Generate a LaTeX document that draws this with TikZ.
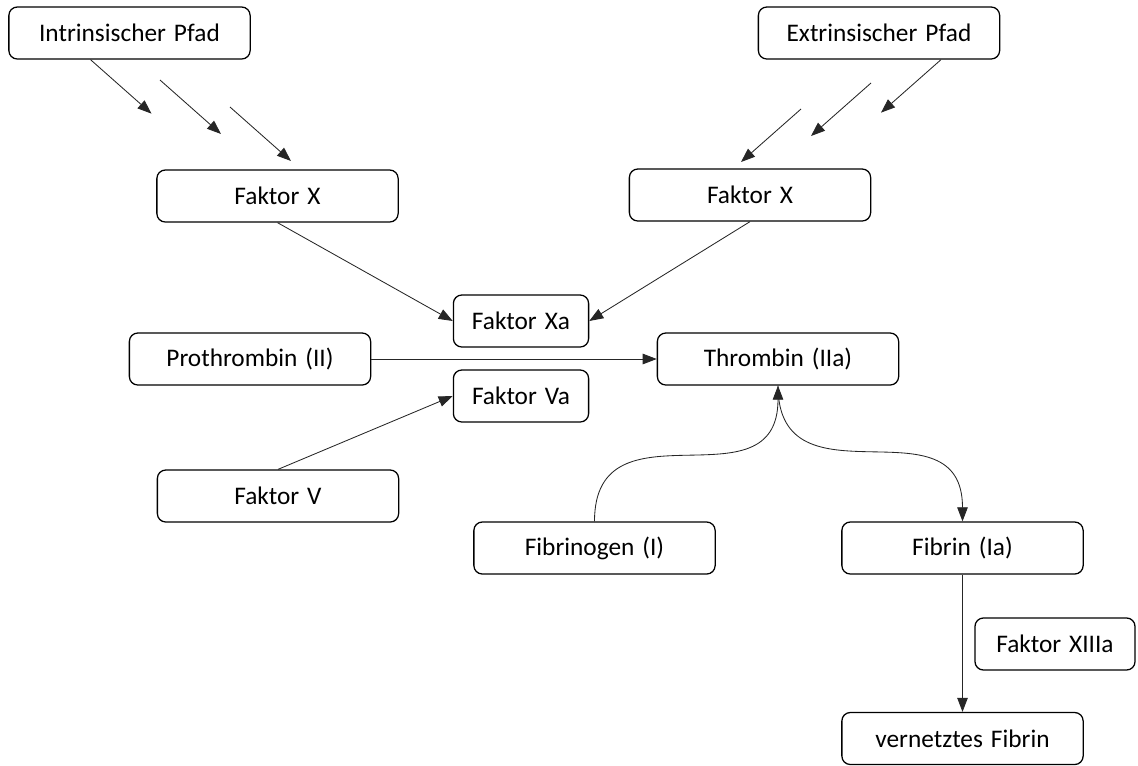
\documentclass[tikz,border=0pt]{standalone}
\usepackage{fontspec}
\setmainfont[WordSpace=1.4]{Carlito}
\usetikzlibrary{arrows.meta,calc}

\begin{document}
\begin{tikzpicture}[x=0.025cm, y=-0.025cm,
    box/.style={draw, rounded corners=6pt, line width=0.9pt, minimum width=6.03cm, minimum height=1.3cm, inner sep=2pt, font=\fontsize{18}{21}\selectfont},
    smallbox/.style={box, minimum width=3.38cm},
    link/.style={-{Triangle[length=10pt,width=7.5pt]}, line width=0.6pt, black!85}]
    \useasboundingbox (0,0) rectangle (1138,765);

    % Pathways
    \node[box] (intr) at (129.5,33) {Intrinsischer Pfad};
    \node[box] (extr) at (879,33) {Extrinsischer Pfad};

    % Factor X
    \node[box] (fxl) at (277.5,196) {Faktor X};
    \node[box] (fxr) at (750,195) {Faktor X};
    \node[smallbox] (fxa) at (521,321) {Faktor Xa};

    % Thrombin
    \node[box] (proth) at (250,359) {Prothrombin (II)};
    \node[box] (thr) at (778,359) {Thrombin (IIa)};
    \node[smallbox] (fva) at (521,396) {Faktor Va};
    \node[box] (fv) at (278,496) {Faktor V};

    % Fibrin
    \node[box] (fgen) at (594.5,548) {Fibrinogen (I)};
    \node[box] (fib) at (962.5,548) {Fibrin (Ia)};
    \node[box, minimum width=4.0cm] (fxiii) at (1055,644) {Faktor XIIIa};
    \node[box] (vfib) at (962.5,738.5) {vernetztes Fibrin};

    % Cascade arrows from the pathways
    \coordinate (ia1) at ($(intr.south)+(-39,0)$);
    \coordinate (ia2) at (160,80);
    \coordinate (ia3) at (230,107);
    \coordinate (ea1) at ($(extr.south)+(62,0)$);
    \coordinate (ea2) at (871,83);
    \coordinate (ea3) at (801,109);
    \foreach \n in {1,2,3}{
        \coordinate (ib\n) at ($(ia\n)+(61,54)$);
        \coordinate (eb\n) at ($(ea\n)+(-60,53)$);
        \draw[link] (ia\n) -- (ib\n);
        \draw[link] (ea\n) -- (eb\n);
    }

    % Activation
    \draw[link] (fxl.south) -- (fxa.west);
    \draw[link] (fxr.south) -- (fxa.east);
    \draw[link] (proth.east) -- (thr.west);
    \draw[link] (fv.north) -- (fva.west);
    \draw[link] (fgen.north) to[out=90, in=-90, looseness=1.4] (thr.south);
    \draw[link] (thr.south) to[out=-90, in=90, looseness=1.4] (fib.north);
    \draw[link] (fib.south) -- (vfib.north);
\end{tikzpicture}
\end{document}
